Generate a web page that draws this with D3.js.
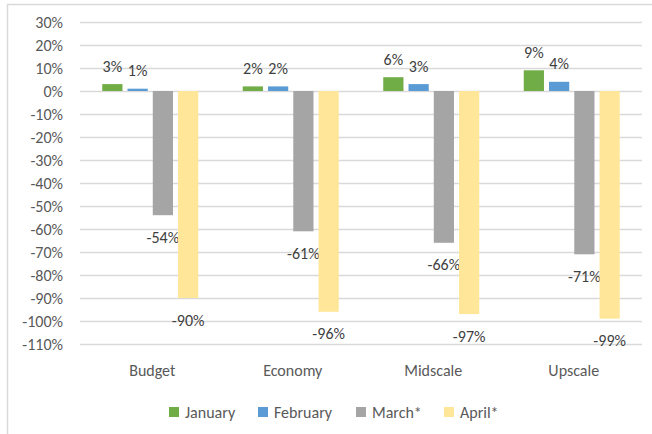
<!DOCTYPE html>
<html>
<head>
<meta charset="utf-8">
<script src="https://cdn.jsdelivr.net/npm/d3@7"></script>
<style>
	body { margin: 0; background: #fff; }
	text { font-family: Carlito, Lato, "Open Sans", sans-serif; }
</style>
</head>
<body>
<div id="chart"></div>
<script>
var categories = ["Budget", "Economy", "Midscale", "Upscale"];
var seriesNames = ["January", "February", "March*", "April*"];
var january = [0.03, 0.02, 0.06, 0.09];
var february = [0.01, 0.02, 0.03, 0.04];
var march = [-0.54, -0.61, -0.66, -0.71];
var april = [-0.90, -0.96, -0.97, -0.99];
var yTicks = [0.3, 0.2, 0.1, 0, -0.1, -0.2, -0.3, -0.4, -0.5, -0.6, -0.7, -0.8, -0.9, -1.0, -1.1];
var colors = ["#70ad47", "#5b9bd5", "#a5a5a5", "#ffe699"];

var seriesValues = [january, february, march, april];

var width = 652, height = 434;
var plot = {left: 80, right: 642, top: 22, bottom: 344};

var svg = d3.select("#chart").append("svg")
	.attr("width", width)
	.attr("height", height);

// chart frame (only top and left edges show in the picture)
svg.append("rect")
	.attr("x", 7.5)
	.attr("y", 4.5)
	.attr("width", 700)
	.attr("height", 500)
	.attr("fill", "none")
	.attr("stroke", "#d9d9d9")
	.attr("stroke-width", 1.5);

var y = d3.scaleLinear()
	.domain([-1.1, 0.3])
	.range([plot.bottom, plot.top]);

var x0 = d3.scaleBand()
	.domain(categories)
	.range([plot.left, plot.right]);

var groupPad = 22.25;
var x1 = d3.scaleBand()
	.domain(seriesNames)
	.range([groupPad, x0.bandwidth() - groupPad])
	.paddingInner(0.2);

// excel style labels use a plain hyphen
var pct = function(v) { return d3.format(".0%")(v).replace("\u2212", "-"); };

//gridlines
svg.append("g")
	.selectAll("line")
	.data(yTicks).enter()
		.append("line")
		.attr("x1", plot.left)
		.attr("x2", plot.right)
		.attr("y1", function(d) { return Math.round(y(d)) + 0.5; })
		.attr("y2", function(d) { return Math.round(y(d)) + 0.5; })
		.attr("stroke", "#d9d9d9")
		.attr("stroke-width", 1.3);

//y axis
var yAxis = svg.append("g")
	.attr("transform", "translate(" + (plot.left - 4) + ",0)")
	.call(d3.axisLeft(y).tickValues(yTicks).tickFormat(pct).tickSize(0).tickPadding(13));
yAxis.select(".domain").remove();
yAxis.selectAll("text")
	.attr("fill", "#595959")
	.style("font-size", "16px")
	.style("font-family", "Carlito, Lato, sans-serif");

//bars
var rows = [];
categories.forEach(function(c, i) {
	seriesNames.forEach(function(s, j) {
		rows.push({cat: c, series: s, idx: j, value: seriesValues[j][i]});
	});
});

var bars = svg.append("g")
	.selectAll("g")
	.data(rows).enter()
		.append("g")
		.attr("transform", function(d) { return "translate(" + (x0(d.cat) + x1(d.series)) + ",0)"; });

bars.append("rect")
	.attr("x", 0)
	.attr("width", x1.bandwidth())
	.attr("y", function(d) { return y(Math.max(0, d.value)); })
	.attr("height", function(d) { return Math.abs(y(d.value) - y(0)); })
	.attr("fill", function(d) { return colors[d.idx]; });

bars.append("text")
	.attr("x", x1.bandwidth() / 2)
	.attr("y", function(d) { return d.value >= 0 ? y(d.value) - 18 : y(d.value) + 22; })
	.attr("text-anchor", "middle")
	.attr("dominant-baseline", "central")
	.attr("fill", "#404040")
	.style("font-size", "16px")
	.text(function(d) { return pct(d.value); });

//category labels
svg.append("g")
	.selectAll("text")
	.data(categories).enter()
		.append("text")
		.attr("x", function(d) { return x0(d) + x0.bandwidth() / 2 + 2; })
		.attr("y", 370)
		.attr("text-anchor", "middle")
		.attr("dominant-baseline", "central")
		.attr("fill", "#595959")
		.style("font-size", "16px")
		.text(function(d) { return d; });

//legend
var legendX = [169, 258, 356, 444];
var legend = svg.append("g")
	.selectAll("g")
	.data(seriesNames).enter()
		.append("g")
		.attr("transform", function(d, i) { return "translate(" + legendX[i] + ",412)"; });

legend.append("rect")
	.attr("x", 0)
	.attr("y", -5)
	.attr("width", 10)
	.attr("height", 10)
	.attr("fill", function(d, i) { return colors[i]; });

legend.append("text")
	.attr("x", 16)
	.attr("y", 0)
	.attr("dominant-baseline", "central")
	.attr("fill", "#595959")
	.style("font-size", "16px")
	.text(function(d) { return d; });
</script>
</body>
</html>
